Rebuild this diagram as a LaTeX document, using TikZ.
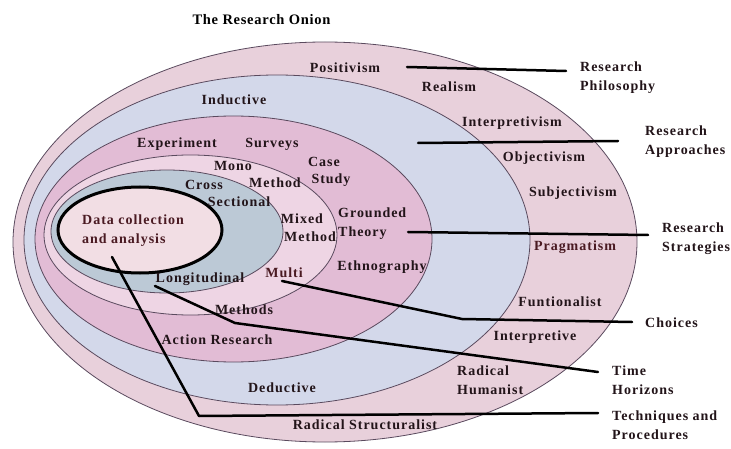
\documentclass[tikz,border=0pt]{standalone}
\usepackage{fontspec}
\setmainfont{Liberation Serif}
\newfontfamily\onionfont[LetterSpace=7]{Liberation Serif}
\newfontfamily\titlefont[LetterSpace=5]{Liberation Serif}
\definecolor{ringA}{HTML}{E8D0DB}
\definecolor{ringB}{HTML}{D3D8EA}
\definecolor{ringC}{HTML}{E2BCD5}
\definecolor{ringD}{HTML}{EED5E4}
\definecolor{ringE}{HTML}{BCC9D6}
\definecolor{ringF}{HTML}{F2DEE4}
\definecolor{edgec}{HTML}{5A4A5E}
\definecolor{textc}{HTML}{221419}
\definecolor{maroon}{HTML}{4A1A22}
\tikzset{
  ring/.style={draw=edgec, line width=0.8pt},
  lbl/.style={inner sep=0pt, text=textc, font=\onionfont\bfseries\fontsize{14}{19}\selectfont},
  side/.style={lbl, anchor=west, align=left},
  conn/.style={draw=black, line width=2.5pt, line join=round, line cap=round}
}
\begin{document}
\begin{tikzpicture}[x=1pt,y=-1pt]
\path[use as bounding box, fill=white] (0,0) rectangle (731,449);
% rings
\draw[ring, fill=ringA] (325,242) ellipse [x radius=312pt, y radius=200pt];
\draw[ring, fill=ringB] (277,240) ellipse [x radius=253pt, y radius=165pt];
\draw[ring, fill=ringC] (233.5,239) ellipse [x radius=198.5pt, y radius=123pt];
\draw[ring, fill=ringD] (190.5,235) ellipse [x radius=146.5pt, y radius=80pt];
\draw[ring, fill=ringE] (167,231.5) ellipse [x radius=116pt, y radius=61.5pt];
\draw[draw=black, line width=3pt, fill=ringF] (140,230) ellipse [x radius=82pt, y radius=43pt];
% title
\node[inner sep=0pt, text=black, font=\titlefont\bfseries\fontsize{14.5}{17}\selectfont] (title) at (261.5,20) {The Research Onion};
% philosophy ring
\node[lbl] (posit) at (345,68) {Positivism};
\node[lbl] (real) at (449,87) {Realism};
\node[lbl] (interp) at (512,123) {Interpretivism};
\node[lbl] (obj) at (544,158) {Objectivism};
\node[lbl] (subj) at (573,193) {Subjectivism};
\node[lbl, text=maroon] (prag) at (575,247) {Pragmatism};
\node[lbl] (funct) at (560,302) {Funtionalist};
\node[lbl] (interpv) at (535,337) {Interpretive};
\node[lbl, anchor=west, align=left] (radh) at (457,380) {Radical\\Humanist};
\node[lbl] (rads) at (365,425) {Radical Structuralist};
% approaches
\node[lbl] (induct) at (234,100) {Inductive};
\node[lbl] (deduct) at (282,388) {Deductive};
% strategies
\node[lbl] (exper) at (177,144) {Experiment};
\node[lbl] (surv) at (272,144) {Surveys};
\node[lbl] (case) at (324,162) {Case};
\node[lbl] (study) at (331,180) {Study};
\node[lbl, anchor=west, align=left] (ground) at (338,224) {Grounded\\Theory};
\node[lbl] (ethno) at (382,267) {Ethnography};
\node[lbl] (action) at (217,340) {Action Research};
% choices
\node[lbl] (mono) at (233,166) {Mono};
\node[lbl] (monom) at (275,183) {Method};
\node[lbl] (mixed) at (302,219) {Mixed};
\node[lbl] (mixedm) at (310,237) {Method};
\node[lbl, text=maroon] (multi) at (284,273) {Multi};
\node[lbl] (multim) at (244,310) {Methods};
% time horizons
\node[lbl] (cross) at (204,185) {Cross};
\node[lbl] (sect) at (239,202) {Sectional};
\node[lbl] (longi) at (200,279) {Longitudinal};
% centre
\node[lbl, text=maroon, anchor=west, align=left] (data) at (82,231) {Data collection\\and analysis};
% side labels
\node[side] (lphil) at (580,77.5) {Research\\Philosophy};
\node[side] (lappr) at (645,142) {Research\\Approaches};
\node[side] (lstrat) at (662,239) {Research\\Strategies};
\node[side] (lchoice) at (645,323) {Choices};
\node[side] (ltime) at (612,380) {Time\\Horizons};
\node[side] (ltech) at (612,425.5) {Techniques and\\Procedures};
% connector points
\coordinate (phA) at (407,67);
\coordinate (phB) at (566,71);
\coordinate (apA) at (418,143);
\coordinate (apB) at (618,141);
\coordinate (stA) at (408,232);
\coordinate (stB) at (648,235);
\coordinate (chA) at (282,281);
\coordinate (chM) at (462,319);
\coordinate (chB) at (632,322);
\coordinate (tiA) at (155,286);
\coordinate (tiM) at (235,323);
\coordinate (tiB) at (598,372);
\coordinate (teA) at (112,257);
\coordinate (teM) at (199,416);
\coordinate (teB) at (598,413);
\draw[conn] (phA) -- (phB);
\draw[conn] (apA) -- (apB);
\draw[conn] (stA) -- (stB);
\draw[conn] (chA) -- (chM) -- (chB);
\draw[conn] (tiA) -- (tiM) -- (tiB);
\draw[conn] (teA) -- (teM) -- (teB);
\end{tikzpicture}
\end{document}
